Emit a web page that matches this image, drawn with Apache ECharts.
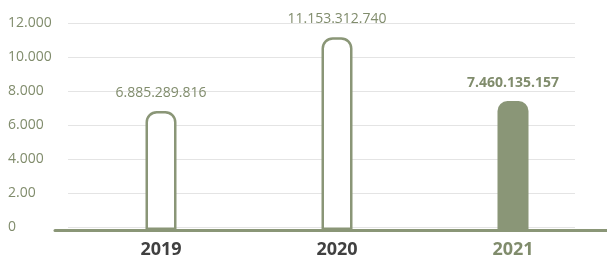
<!DOCTYPE html>
<html>
<head>
<meta charset="utf-8">
<script src="https://cdn.jsdelivr.net/npm/echarts@6/dist/echarts.min.js"></script>
<style>
  html, body { margin: 0; padding: 0; background: #fff; }
  #main { width: 607px; height: 259px; }
</style>
</head>
<body>
<div id="main"></div>
<script>
var myChart = echarts.init(document.getElementById('main'));

// values in millions, labels as printed
var years = ['2019', '2020', '2021'];
var amounts = [6885.289816, 11153.312740, 7460.135157];
var amountLabels = ['6.885.289.816', '11.153.312.740', '7.460.135.157'];
var tickLabels = ['0', '2.00', '4.000', '6.000', '8.000', '10.000', '12.000'];

var green = '#8a9677';
var textGreen = '#808c6c';
var font = '"Open Sans", "Liberation Sans", sans-serif';

var barData = amounts.map(function (v, i) {
    var last = i === amounts.length - 1;
    return {
        value: v,
        itemStyle: last ? { color: green, borderWidth: 0 } : { color: '#fff', borderColor: green, borderWidth: 2.5 },
        label: { fontWeight: last ? 'bold' : 'normal' }
    };
});

option = {
    animation: false,
    grid: [
        { left: 55, right: 0, top: 22.5, bottom: 28.3 },   // long axis line
        { left: 68, right: 32, top: 23.5, bottom: 32 },    // gridlines + y labels
        { left: 73, right: 6, top: 22.5, bottom: 28.3 }    // bars
    ],
    xAxis: [
        {
            gridIndex: 0, type: 'category', data: years, z: 10,
            axisLine: { lineStyle: { color: green, width: 3 } },
            axisTick: { show: false }, axisLabel: { show: false }
        },
        { gridIndex: 1, type: 'category', data: years, show: false },
        {
            gridIndex: 2, type: 'category', data: years,
            axisLine: { show: false }, axisTick: { show: false },
            axisLabel: {
                margin: 11,
                fontSize: 18,
                fontWeight: 'bold',
                fontFamily: font,
                color: function (val, idx) { return idx === years.length - 1 ? textGreen : '#404040'; }
            }
        }
    ],
    yAxis: [
        { gridIndex: 0, type: 'value', min: 0, max: 12000, show: false },
        {
            gridIndex: 1, type: 'value', min: 0, max: 12000, interval: 2000,
            axisLine: { show: false }, axisTick: { show: false },
            splitLine: { lineStyle: { color: '#e4e4e4', width: 1 } },
            axisLabel: {
                align: 'left', margin: 60,
                fontSize: 14, fontFamily: font, color: textGreen,
                formatter: function (v) { return tickLabels[Math.round(v / 2000)]; }
            }
        },
        { gridIndex: 2, type: 'value', min: 0, max: 12000, show: false }
    ],
    series: [{
        type: 'bar',
        xAxisIndex: 2,
        yAxisIndex: 2,
        barWidth: 31,
        data: barData,
        itemStyle: { borderRadius: [10, 10, 0, 0] },
        label: {
            show: true,
            position: 'top',
            distance: 11,
            fontSize: 14,
            fontFamily: font,
            color: textGreen,
            formatter: function (p) { return amountLabels[p.dataIndex]; }
        }
    }]
};
myChart.setOption(option);
</script>
</body>
</html>
